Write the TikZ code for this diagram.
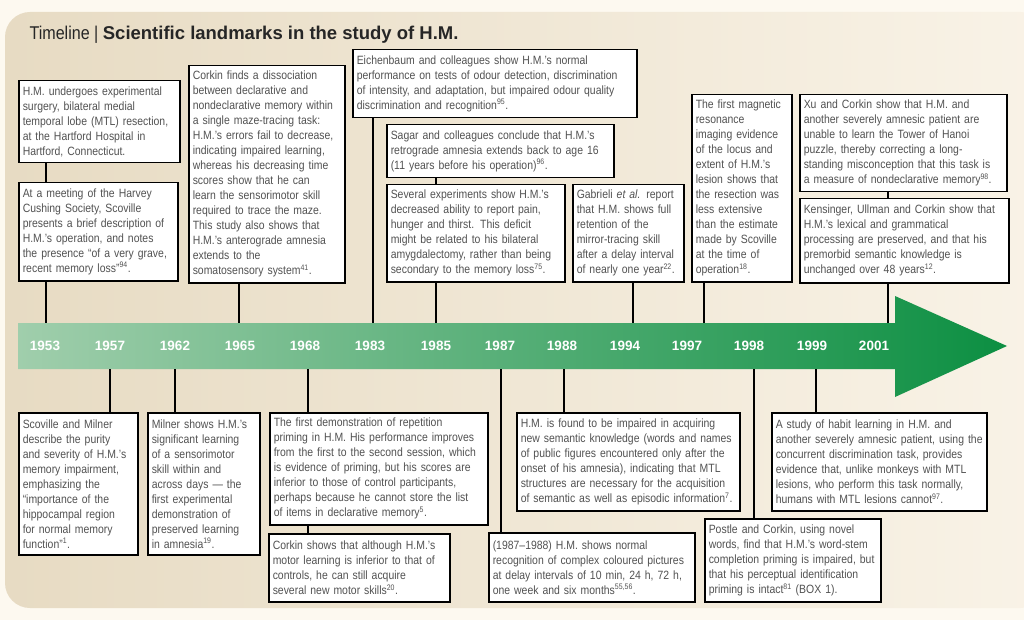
\documentclass[tikz,border=0pt]{standalone}
\usepackage{fontspec}
\setmainfont{Liberation Sans}[FakeStretch=0.87]
\newfontfamily\titlefont{Liberation Sans}
\definecolor{bgc}{RGB}{253,249,240}
\definecolor{panelL}{RGB}{231,219,195}
\definecolor{panelR}{RGB}{249,243,231}
\definecolor{armL}{RGB}{160,206,172}
\definecolor{armR}{RGB}{12,143,66}
\begin{document}
\begin{tikzpicture}[x=1pt, y=-1pt,
    box/.style={draw=black, line width=1.5pt, fill=white, anchor=north west, align=left,
        inner xsep=4pt, inner ysep=5pt, text=black!68, font=\fontsize{12}{15}\selectfont},
    stem/.style={line width=1.3pt},
    year/.style={text=white, font=\titlefont\bfseries\fontsize{13.5}{13.5}\selectfont}]
    % Hintergrund
    \useasboundingbox (0,0) rectangle (1024,620);
    \fill[bgc] (0,0) rectangle (1024,620);
    \shade[left color=panelL, right color=panelR, rounded corners=25pt] (5,12) rectangle (1045,608);
    \node[anchor=base west, text=black!85, font=\fontsize{18.5}{20}\selectfont] (title) at (26,40)
        {Timeline | {\titlefont\bfseries\fontsize{18.5}{20}\selectfont Scientific landmarks in the study of H.M.}};
    % Zeitpfeil
    \shade[left color=armL, right color=armR] (18,323) -- (895,323) -- (895,296) -- (1007,346)
        -- (895,397) -- (895,369) -- (18,369) -- cycle;
    \coordinate (bandtop) at (18,323);
    \coordinate (bandbot) at (18,369);
    \foreach \yr/\x in {1953/45, 1957/110, 1962/175, 1965/240, 1968/305, 1983/370, 1985/436,
        1987/500, 1988/562, 1994/625, 1997/687, 1998/749, 1999/812, 2001/874}
        \node[year] (y\yr) at (\x,346) {\yr};
    % Kaesten oben
    \node[box, text width=153pt, minimum height=82pt] (t53a) at (18,80)
        {H.M. undergoes experimental\\ surgery, bilateral medial\\ temporal lobe (MTL) resection,\\
         at the Hartford Hospital in\\ Hartford, Connecticut.};
    \node[box, text width=151pt, minimum height=98pt] (t53b) at (18,182)
        {At a meeting of the Harvey\\ Cushing Society, Scoville\\ presents a brief description of\\
         H.M.’s operation, and notes\\ the presence “of a very grave,\\ recent memory loss”\textsuperscript{94}.};
    \node[box, text width=148pt, minimum height=217pt] (t65) at (188,65)
        {Corkin finds a dissociation\\ between declarative and\\ nondeclarative memory within\\
         a single maze-tracing task:\\ H.M.’s errors fail to decrease,\\ indicating impaired learning,\\
         whereas his decreasing time\\ scores show that he can\\ learn the sensorimotor skill\\
         required to trace the maze.\\ This study also shows that\\ H.M.’s anterograde amnesia\\
         extends to the\\ somatosensory system\textsuperscript{41}.};
    \node[box, text width=276pt, minimum height=68pt] (t83) at (352,49)
        {Eichenbaum and colleagues show H.M.’s normal\\ performance on tests of odour detection, discrimination\\
         of intensity, and adaptation, but impaired odour quality\\ discrimination and recognition\textsuperscript{95}.};
    \node[box, text width=219pt, minimum height=53pt] (t85a) at (386,124)
        {Sagar and colleagues conclude that H.M.’s\\ retrograde amnesia extends back to age 16\\
         (11 years before his operation)\textsuperscript{96}.};
    \node[box, text width=170pt, minimum height=97pt] (t85b) at (386,184)
        {Several experiments show H.M.’s\\ decreased ability to report pain,\\ hunger and thirst. This deficit\\
         might be related to his bilateral\\ amygdalectomy, rather than being\\ secondary to the memory loss\textsuperscript{75}.};
    \node[box, text width=103pt, minimum height=97pt] (t94) at (572,184)
        {Gabrieli \textit{et al.} report\\ that H.M. shows full\\ retention of the\\ mirror-tracing skill\\
         after a delay interval\\ of nearly one year\textsuperscript{22}.};
    \node[box, text width=92pt, minimum height=187pt] (t97) at (691,94)
        {The first magnetic\\ resonance\\ imaging evidence\\ of the locus and\\ extent of H.M.’s\\
         lesion shows that\\ the resection was\\ less extensive\\ than the estimate\\ made by Scoville\\
         at the time of\\ operation\textsuperscript{18}.};
    \node[box, text width=199pt, minimum height=97pt] (t01a) at (799,94)
        {Xu and Corkin show that H.M. and\\ another severely amnesic patient are\\ unable to learn the Tower of Hanoi\\
         puzzle, thereby correcting a long-\\ standing misconception that this task is\\
         a measure of nondeclarative memory\textsuperscript{98}.};
    \node[box, text width=201pt, minimum height=84pt] (t01b) at (799,198)
        {Kensinger, Ullman and Corkin show that\\ H.M.’s lexical and grammatical\\ processing are preserved, and that his\\
         premorbid semantic knowledge is\\ unchanged over 48 years\textsuperscript{12}.};
    % Kaesten unten
    \node[box, text width=111pt, minimum height=142pt] (b57) at (18,412)
        {Scoville and Milner\\ describe the purity\\ and severity of H.M.’s\\ memory impairment,\\ emphasizing the\\
         “importance of the\\ hippocampal region\\ for normal memory\\ function”\textsuperscript{1}.};
    \node[box, text width=104pt, minimum height=142pt] (b62) at (147,412)
        {Milner shows H.M.’s\\ significant learning\\ of a sensorimotor\\ skill within and\\ across days — the\\
         first experimental\\ demonstration of\\ preserved learning\\ in amnesia\textsuperscript{19}.};
    \node[box, text width=210pt, minimum height=112pt] (b68a) at (269,412)
        {The first demonstration of repetition\\ priming in H.M. His performance improves\\
         from the first to the second session, which\\ is evidence of priming, but his scores are\\
         inferior to those of control participants,\\ perhaps because he cannot store the list\\
         of items in declarative memory\textsuperscript{5}.};
    \node[box, text width=173pt, minimum height=68pt] (b68b) at (268,533)
        {Corkin shows that although H.M.’s\\ motor learning is inferior to that of\\ controls, he can still acquire\\
         several new motor skills\textsuperscript{20}.};
    \node[box, text width=198pt, minimum height=69pt] (b87) at (488,532)
        {(1987–1988) H.M. shows normal\\ recognition of complex coloured pictures\\
         at delay intervals of 10 min, 24 h, 72 h,\\ one week and six months\textsuperscript{55,56}.};
    \node[box, text width=215pt, minimum height=98pt] (b88) at (516,412)
        {H.M. is found to be impaired in acquiring\\ new semantic knowledge (words and names\\
         of public figures encountered only after the\\ onset of his amnesia), indicating that MTL\\
         structures are necessary for the acquisition\\ of semantic as well as episodic information\textsuperscript{7}.};
    \node[box, text width=168pt, minimum height=83pt] (b98) at (704,518)
        {Postle and Corkin, using novel\\ words, find that H.M.’s word-stem\\ completion priming is impaired, but\\
         that his perceptual identification\\ priming is intact\textsuperscript{81} (BOX 1).};
    \node[box, text width=207pt, minimum height=98pt] (b99) at (771,412)
        {A study of habit learning in H.M. and\\ another severely amnesic patient, using the\\
         concurrent discrimination task, provides\\ evidence that, unlike monkeys with MTL\\
         lesions, who perform this task normally,\\ humans with MTL lesions cannot\textsuperscript{97}.};
    % Verbindungen
    \foreach \a/\b/\x in {t53a/t53b/46, t85a/t85b/436, t01a/t01b/888, b68a/b68b/308}
        \draw[stem] (\a.south -| \x,0) -- (\b.north -| \x,0);
    \foreach \a/\x in {t53b/46, t65/239, t83/373, t85b/436, t94/633, t97/704, t01b/888}
        \draw[stem] (\a.south -| \x,0) -- (bandtop -| \x,0);
    \foreach \b/\x in {b57/110, b62/175, b68a/308, b87/501, b88/564, b98/754, b99/816}
        \draw[stem] (bandbot -| \x,0) -- (\b.north -| \x,0);
\end{tikzpicture}
\end{document}
